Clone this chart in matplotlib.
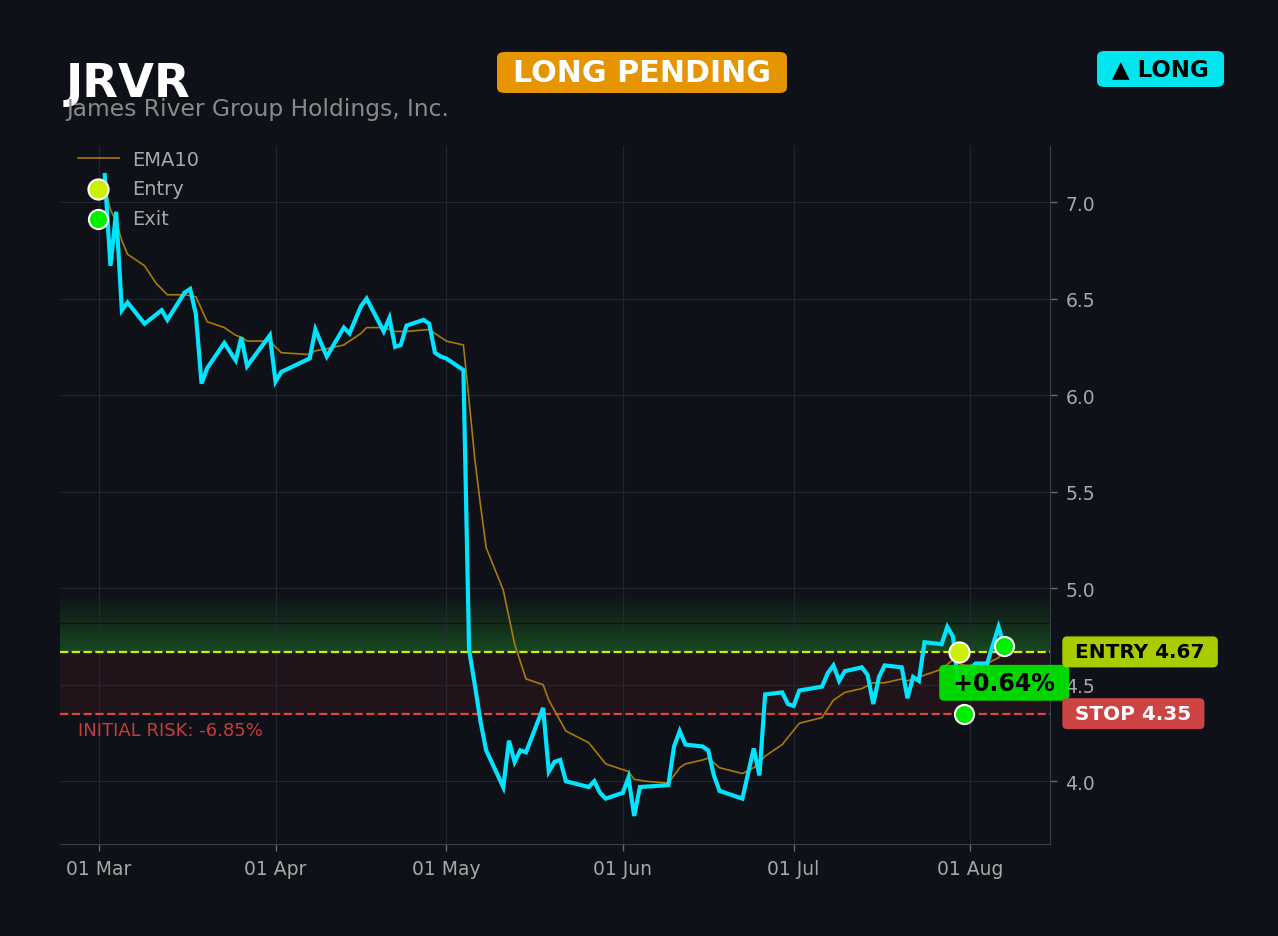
import matplotlib
matplotlib.use("Agg")
import matplotlib.pyplot as plt
import matplotlib.dates as mdates
import matplotlib.transforms as mtransforms
from matplotlib.patches import FancyBboxPatch
import numpy as np
import pandas as pd

BG = "#0e1118"
CYAN, GOLD = "#00e5ff", "#b8860b"
ENTRY_C, EXIT_C = "#ccf000", "#00ee00"
STOP_C, GREY = "#dd4444", "#a8a8a8"
plt.rcParams["font.family"] = "DejaVu Sans"

# ---------- data ----------
ticker = "JRVR"
company = "James River Group Holdings, Inc."

close_dates = [
    "2024-03-02", "2024-03-03", "2024-03-04", "2024-03-05", "2024-03-06", "2024-03-09",
    "2024-03-12", "2024-03-13", "2024-03-16", "2024-03-17", "2024-03-18", "2024-03-19",
    "2024-03-20", "2024-03-23", "2024-03-25", "2024-03-26", "2024-03-27", "2024-03-31",
    "2024-04-01", "2024-04-02", "2024-04-07", "2024-04-08", "2024-04-10", "2024-04-13",
    "2024-04-14", "2024-04-16", "2024-04-17", "2024-04-20", "2024-04-21", "2024-04-22",
    "2024-04-23", "2024-04-24", "2024-04-27", "2024-04-28", "2024-04-29", "2024-04-30",
    "2024-05-01", "2024-05-04", "2024-05-05", "2024-05-06", "2024-05-07", "2024-05-08",
    "2024-05-11", "2024-05-12", "2024-05-13", "2024-05-14", "2024-05-15", "2024-05-18",
    "2024-05-19", "2024-05-20", "2024-05-21", "2024-05-22", "2024-05-26", "2024-05-27",
    "2024-05-28", "2024-05-29", "2024-06-01", "2024-06-02", "2024-06-03", "2024-06-04",
    "2024-06-09", "2024-06-10", "2024-06-11", "2024-06-12", "2024-06-15", "2024-06-16",
    "2024-06-17", "2024-06-18", "2024-06-22", "2024-06-24", "2024-06-25", "2024-06-26",
    "2024-06-29", "2024-06-30", "2024-07-01", "2024-07-02", "2024-07-06", "2024-07-07",
    "2024-07-08", "2024-07-09", "2024-07-10", "2024-07-13", "2024-07-14", "2024-07-15",
    "2024-07-16", "2024-07-17", "2024-07-20", "2024-07-21", "2024-07-22", "2024-07-23",
    "2024-07-24", "2024-07-27", "2024-07-28", "2024-07-29", "2024-07-30", "2024-07-31",
    "2024-08-02", "2024-08-04", "2024-08-06", "2024-08-07",
]
close = [
    7.14, 6.67, 6.95, 6.44, 6.48, 6.37,
    6.44, 6.39, 6.53, 6.55, 6.42, 6.06,
    6.14, 6.27, 6.18, 6.30, 6.15, 6.31,
    6.07, 6.12, 6.19, 6.34, 6.20, 6.35,
    6.32, 6.46, 6.50, 6.33, 6.40, 6.25,
    6.26, 6.36, 6.39, 6.37, 6.22, 6.20,
    6.19, 6.13, 4.68, 4.50, 4.31, 4.16,
    3.97, 4.21, 4.10, 4.16, 4.15, 4.38,
    4.05, 4.10, 4.11, 4.00, 3.97, 4.00,
    3.94, 3.91, 3.94, 4.02, 3.82, 3.97,
    3.98, 4.18, 4.26, 4.19, 4.18, 4.16,
    4.03, 3.95, 3.91, 4.17, 4.03, 4.45,
    4.46, 4.40, 4.39, 4.47, 4.49, 4.56,
    4.60, 4.52, 4.57, 4.59, 4.55, 4.40,
    4.54, 4.60, 4.59, 4.43, 4.54, 4.52,
    4.72, 4.71, 4.80, 4.75, 4.48, 4.56,
    4.61, 4.61, 4.80, 4.70,
]

ema_dates = [
    "2024-03-02", "2024-03-03", "2024-03-04", "2024-03-05", "2024-03-06", "2024-03-09",
    "2024-03-11", "2024-03-13", "2024-03-16", "2024-03-18", "2024-03-20", "2024-03-23",
    "2024-03-25", "2024-03-26", "2024-03-27", "2024-03-31", "2024-04-02", "2024-04-07",
    "2024-04-08", "2024-04-10", "2024-04-13", "2024-04-14", "2024-04-16", "2024-04-17",
    "2024-04-20", "2024-04-22", "2024-04-24", "2024-04-28", "2024-05-01", "2024-05-04",
    "2024-05-05", "2024-05-06", "2024-05-07", "2024-05-08", "2024-05-11", "2024-05-13",
    "2024-05-15", "2024-05-18", "2024-05-19", "2024-05-22", "2024-05-26", "2024-05-29",
    "2024-06-02", "2024-06-03", "2024-06-05", "2024-06-09", "2024-06-11", "2024-06-12",
    "2024-06-15", "2024-06-16", "2024-06-18", "2024-06-22", "2024-06-24", "2024-06-26",
    "2024-06-29", "2024-07-02", "2024-07-06", "2024-07-08", "2024-07-10", "2024-07-13",
    "2024-07-15", "2024-07-17", "2024-07-20", "2024-07-21", "2024-07-24", "2024-07-27",
    "2024-07-29", "2024-07-30", "2024-07-31", "2024-08-02", "2024-08-04", "2024-08-06",
    "2024-08-07",
]
ema10 = [
    7.08, 6.96, 6.90, 6.80, 6.73, 6.67,
    6.58, 6.52, 6.52, 6.51, 6.38, 6.35,
    6.31, 6.30, 6.28, 6.28, 6.22, 6.21,
    6.23, 6.24, 6.26, 6.28, 6.32, 6.35,
    6.35, 6.33, 6.33, 6.34, 6.28, 6.26,
    5.97, 5.67, 5.43, 5.21, 4.99, 4.71,
    4.53, 4.50, 4.42, 4.26, 4.20, 4.09,
    4.05, 4.01, 4.00, 3.99, 4.07, 4.09,
    4.11, 4.12, 4.07, 4.04, 4.07, 4.13,
    4.19, 4.30, 4.33, 4.42, 4.46, 4.48,
    4.51, 4.51, 4.53, 4.52, 4.55, 4.58,
    4.63, 4.61, 4.60, 4.60, 4.61, 4.64,
    4.67,
]

entry_date, entry_price = "2024-07-30", 4.67
exit_dates = ["2024-07-31", "2024-08-07"]
exit_prices = [4.35, 4.70]
stop_price = 4.35
target_level = 4.82
zone_top = 5.0
status = "LONG PENDING"
side = "▲ LONG"

# ---------- figure ----------
cd = pd.to_datetime(close_dates)
ed = pd.to_datetime(ema_dates)
pnl = (exit_prices[-1] / entry_price - 1) * 100
risk = (stop_price / entry_price - 1) * 100

fig = plt.figure(figsize=(12.78, 9.37), dpi=100, facecolor=BG)
ax = fig.add_axes([0.047, 0.098, 0.7746, 0.745], facecolor=BG)

x0, x1 = pd.Timestamp("2024-02-23 03:36"), pd.Timestamp("2024-08-15 01:00")
ax.set_xlim(x0, x1)
ax.set_ylim(3.674, 7.29)

# green gradient above entry, red band down to stop
n = 64
grad = np.zeros((n, 2, 4))
grad[..., 0], grad[..., 1], grad[..., 2] = 40 / 255, 165 / 255, 45 / 255
grad[..., 3] = np.linspace(0.45, 0.0, n)[:, None] ** 1.2
ax.imshow(grad, extent=[mdates.date2num(x0), mdates.date2num(x1), entry_price, zone_top],
          origin="lower", aspect="auto", zorder=0.5, interpolation="bilinear")
ax.axhspan(stop_price, entry_price, color="#c83232", alpha=0.10, lw=0, zorder=0.5)
ax.axhline(target_level, color="#0a0d12", lw=1.0, alpha=0.7, zorder=0.6)

ax.axhline(entry_price, color=ENTRY_C, lw=1.6, ls="--", zorder=2)
ax.axhline(stop_price, color=STOP_C, lw=1.6, ls="--", zorder=2)

ax.plot(ed, ema10, color=GOLD, lw=1.2, alpha=0.9, zorder=3, label="EMA10")
ax.plot(cd, close, color=CYAN, lw=3, zorder=4, solid_joinstyle="miter")

ax.scatter(pd.to_datetime([entry_date]), [entry_price], s=210, color=ENTRY_C,
           edgecolor="white", linewidth=1.5, zorder=6, label="Entry")
ax.scatter(pd.to_datetime(exit_dates), exit_prices, s=190, color=EXIT_C,
           edgecolor="white", linewidth=1.5, zorder=6, label="Exit")

ax.text(pd.to_datetime(exit_dates[-1]), (entry_price + stop_price) / 2, f" {pnl:+.2f}% ",
        ha="center", va="center", fontsize=17, fontweight="bold", color="black", zorder=8,
        bbox=dict(boxstyle="round,pad=0.25,rounding_size=0.2", fc="#00e600", ec="none", alpha=0.93))

tr = mtransforms.blended_transform_factory(ax.transAxes, ax.transData)
ax.text(0.018, 4.265, f"INITIAL RISK: {risk:.2f}%", transform=tr,
        color="#c83c3c", fontsize=13, va="center", ha="left")

ax.text(1.0185, entry_price, f" ENTRY {entry_price:.2f} ", transform=tr, ha="left", va="center",
        fontsize=14.4, fontweight="bold", color="black", zorder=8, clip_on=False,
        bbox=dict(boxstyle="round,pad=0.3,rounding_size=0.25", fc="#a8cc00", ec="none"))
ax.text(1.0185, stop_price, f" STOP {stop_price:.2f} ", transform=tr, ha="left", va="center",
        fontsize=14.4, fontweight="bold", color="white", zorder=8, clip_on=False,
        bbox=dict(boxstyle="round,pad=0.3,rounding_size=0.25", fc="#cc4444", ec="none"))

# axes styling
ax.yaxis.tick_right()
ax.set_yticks(np.arange(4.0, 7.01, 0.5))
ax.yaxis.set_major_formatter(matplotlib.ticker.FormatStrFormatter("%.1f"))
ax.xaxis.set_major_locator(mdates.MonthLocator())
ax.xaxis.set_major_formatter(mdates.DateFormatter("%d %b"))
ax.tick_params(colors="#666a72", labelcolor=GREY, labelsize=13.5, length=5, width=1, pad=6)
ax.grid(True, color="#2a2e39", lw=0.8, alpha=0.7)
ax.set_axisbelow(True)
for s in ["top", "left"]:
    ax.spines[s].set_visible(False)
for s in ["bottom", "right"]:
    ax.spines[s].set_color("#3a3e47")

ax.legend(loc="upper left", bbox_to_anchor=(0.006, 1.0115), frameon=False, fontsize=14,
          labelcolor=GREY, handlelength=2.1, borderaxespad=0.2, handletextpad=0.7,
          labelspacing=0.55)

# header
fig.text(0.0516, 0.8965, ticker, fontsize=33.5, fontweight="bold", color="white", va="baseline")
fig.text(0.0516, 0.876, company, fontsize=16.8, color="#8a8a8a", va="baseline")


def badge(x, y, w, h, fc, label, tc, size):
    fig.patches.append(FancyBboxPatch((x, y), w, h, boxstyle="round,pad=0,rounding_size=0.006",
                                      transform=fig.transFigure, fc=fc, ec="none"))
    fig.text(x + w / 2, y + h / 2, label, ha="center", va="center", fontsize=size,
             fontweight="bold", color=tc)


badge(0.3889, 0.8997, 0.2269, 0.0438, "#e69500", status, "white", 21.7)
badge(0.8584, 0.9061, 0.0994, 0.0384, "#00e5ee", side, "black", 16.5)

fig.savefig("out.png", dpi=100, facecolor=BG)
